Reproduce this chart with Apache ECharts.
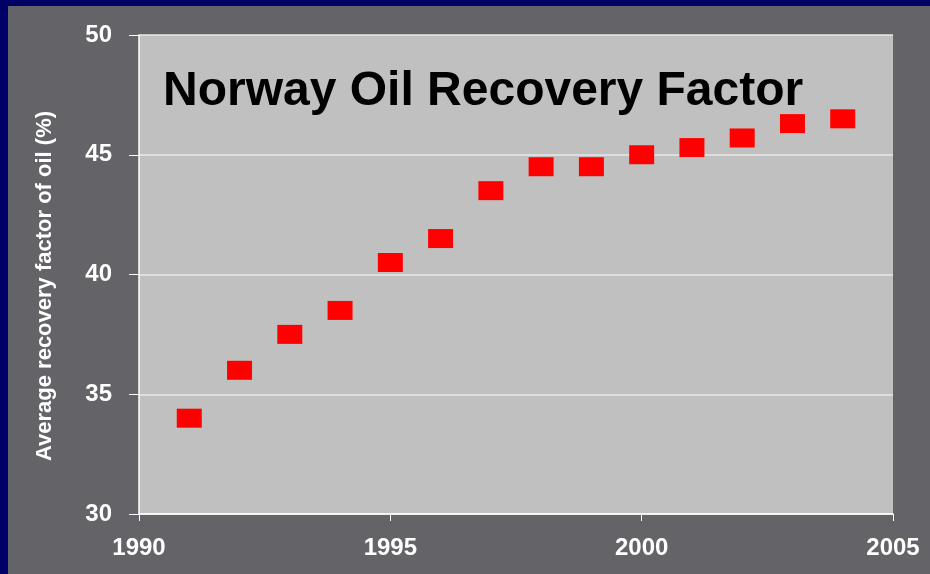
<!DOCTYPE html>
<html>
<head>
<meta charset="utf-8">
<script src="https://cdn.jsdelivr.net/npm/echarts@6/dist/echarts.min.js"></script>
<style>
  html, body { margin: 0; padding: 0; background: #000066; }
  #chart { position: absolute; left: 8px; top: 6px; width: 922px; height: 568px; }
</style>
</head>
<body>
<div id="chart"></div>
<script>
// years and recovery factor (%)
var years = [1991, 1992, 1993, 1994, 1995, 1996, 1997, 1998, 1999, 2000, 2001, 2002, 2003, 2004];
var recovery = [34.0, 36.0, 37.5, 38.5, 40.5, 41.5, 43.5, 44.5, 44.5, 45.0, 45.3, 45.7, 46.3, 46.5];

var points = years.map(function (y, i) { return [y, recovery[i]]; });
var font = 'Liberation Sans, Arial, sans-serif';

var chart = echarts.init(document.getElementById('chart'));
chart.setOption({
  backgroundColor: '#646468',
  animation: false,
  title: {
    text: 'Norway Oil Recovery Factor',
    left: 150,
    top: 57,
    textStyle: { color: '#000', fontSize: 48, fontWeight: 'bold', fontFamily: font }
  },
  // y axis title, rotated
  graphic: [{
    type: 'text',
    x: 37,
    y: 280,
    rotation: Math.PI / 2,
    style: {
      text: 'Average recovery factor of oil (%)',
      fill: '#fff',
      font: 'bold 22px ' + font,
      align: 'center',
      verticalAlign: 'middle'
    }
  }],
  grid: {
    left: 131,
    top: 29,
    right: 37,
    bottom: 60,
    show: true,
    backgroundColor: '#c0c0c0',
    borderWidth: 0
  },
  xAxis: {
    type: 'value',
    min: 1990,
    max: 2005,
    interval: 5,
    axisLine: { show: true, lineStyle: { color: '#ffffff', width: 1.5 } },
    axisTick: { show: true, length: 7, lineStyle: { color: '#ffffff' } },
    splitLine: { show: false },
    axisLabel: {
      color: '#fff',
      fontSize: 24,
      fontWeight: 'bold',
      fontFamily: font,
      margin: 22,
      formatter: function (v) { return String(v); }
    }
  },
  yAxis: {
    type: 'value',
    min: 30,
    max: 50,
    interval: 5,
    axisLine: { show: true, lineStyle: { color: '#ffffff', width: 1.5 } },
    axisTick: { show: true, length: 10, lineStyle: { color: '#ffffff' } },
    splitLine: { show: true, lineStyle: { color: '#e8e8e8', width: 1.5 } },
    axisLabel: {
      color: '#fff',
      fontSize: 24,
      fontWeight: 'bold',
      fontFamily: font,
      margin: 27
    }
  },
  series: [
    {
      type: 'scatter',
      symbol: 'rect',
      symbolSize: [25, 19],
      itemStyle: { color: '#ff0000', opacity: 1 },
      data: points
    }
  ]
});
</script>
</body>
</html>
